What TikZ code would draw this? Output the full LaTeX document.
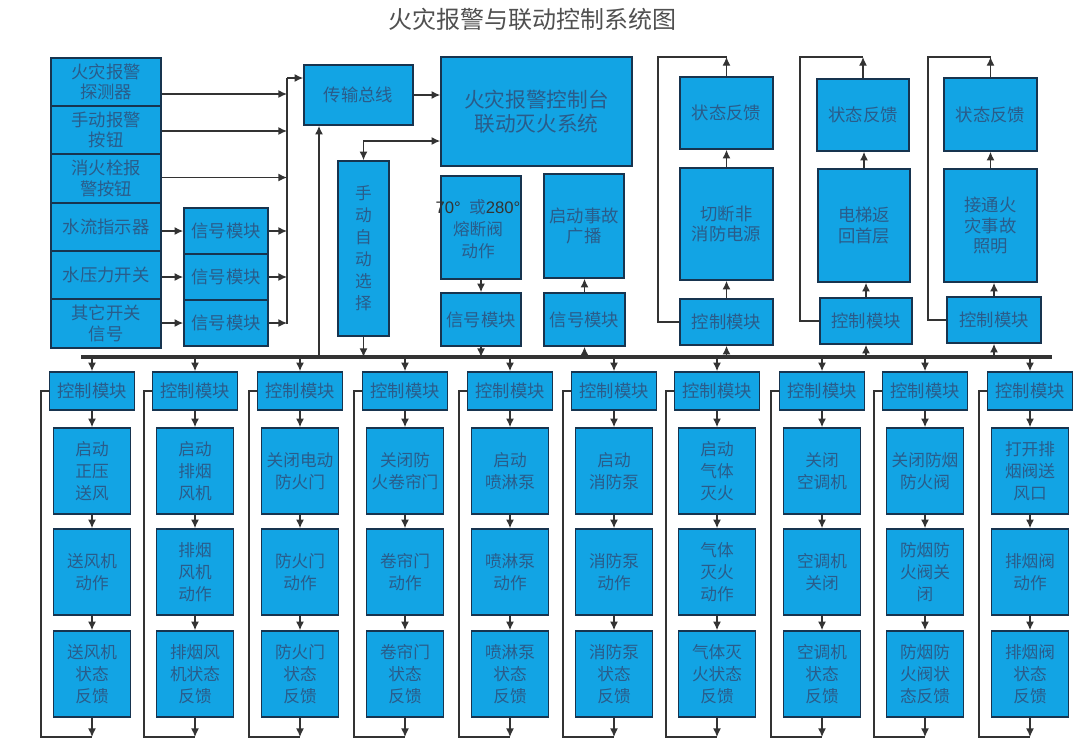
\documentclass[tikz,border=0pt]{standalone}
\usepackage{fontspec}
\setmainfont{Noto Sans CJK SC}
\newfontfamily\lat{Liberation Sans}
\usetikzlibrary{arrows.meta,calc}
\definecolor{boxfill}{HTML}{12A4E4}
\definecolor{boxdraw}{HTML}{17344F}
\definecolor{boxtext}{HTML}{2A5C8A}
\definecolor{linec}{HTML}{333333}
\definecolor{titlec}{HTML}{505050}
\tikzset{
  box/.style={draw=boxdraw, fill=boxfill, line width=1.2pt, text=boxtext, align=center, inner sep=0pt},
  fS/.style={font=\fontsize{12.5}{16.3}\selectfont},
  fM/.style={font=\fontsize{13}{15.5}\selectfont},
  fL/.style={font=\fontsize{15.5}{18}\selectfont},
  arr/.style={draw=linec, line width=1pt, -{Latex[length=6.5pt,width=6pt]}},
  arrb/.style={draw=linec, line width=1pt, {Latex[length=6.5pt,width=6pt]}-{Latex[length=6.5pt,width=6pt]}},
  plain/.style={draw=linec, line width=1pt},
}
\newcommand\bx[7][]{\node[box,#1,minimum width={(#5-#3)*0.75pt},minimum height={(#6-#4)*0.75pt}] (#2) at ({(#3+#5)/2},{(#4+#6)/2}) {#7};}
\newcommand\bcol[5]{%
  \node[box,fM,minimum width=63.75pt,minimum height=28.5pt] (k#1) at (#2,391) {控制模块};
  \node[box,fS,minimum width=57.75pt,minimum height=64.5pt] (p#1) at (#2,471) {#3};
  \node[box,fS,minimum width=57.75pt,minimum height=64.5pt] (q#1) at (#2,572) {#4};
  \node[box,fS,minimum width=57.75pt,minimum height=64.5pt] (r#1) at (#2,674) {#5};
  \coordinate (bb#1) at (#2,357);
  \coordinate (e#1) at (#2,737);
  \coordinate (g#1) at ({#2-51},737);
  \draw[arr] (bb#1) -- (k#1);
  \draw[arr] (k#1) -- (p#1);
  \draw[arr] (p#1) -- (q#1);
  \draw[arr] (q#1) -- (r#1);
  \draw[arr] (r#1) -- (e#1);
  \draw[plain] (k#1.west) -| (g#1) -- (e#1);
}
\begin{document}
\begin{tikzpicture}[x=0.75pt,y=-0.75pt]
\useasboundingbox[fill=white] (0,0) rectangle (1080,740);
\node[text=titlec, font=\fontsize{18}{20}\selectfont] (title) at (532,19) {火灾报警与联动控制系统图};

% left inputs
\bx[fM]{d1}{51}{58}{161}{106}{火灾报警\\探测器}
\bx[fM]{d2}{51}{106}{161}{154}{手动报警\\按钮}
\bx[fM]{d3}{51}{154}{161}{203}{消火栓报\\警按钮}
\bx[fM]{d4}{51}{203}{161}{251}{水流指示器}
\bx[fM]{d5}{51}{251}{161}{299}{水压力开关}
\bx[fM]{d6}{51}{299}{161}{348}{其它开关\\信号}
\bx[fM]{s1}{184}{208}{268}{254}{信号模块}
\bx[fM]{s2}{184}{254}{268}{300}{信号模块}
\bx[fM]{s3}{184}{300}{268}{346}{信号模块}

\coordinate (ctop) at (287,78);
\coordinate (cbot) at (287,324);
\coordinate (a1) at ($(d1.east)+(0,12)$);
\coordinate (a2) at ($(d2.east)+(0,1)$);
\coordinate (a3) at ($(d3.east)+(0,-1)$);
\draw[arr] (a1) -- (a1 -| ctop);
\draw[arr] (a2) -- (a2 -| ctop);
\draw[arr] (a3) -- (a3 -| ctop);
\draw[arr] (d4.east |- s1.west) -- (s1.west);
\draw[arr] (d5.east |- s2.west) -- (s2.west);
\draw[arr] (d6.east |- s3.west) -- (s3.west);
\draw[arr] (s1.east) -- (s1.east -| ctop);
\draw[arr] (s2.east) -- (s2.east -| ctop);
\draw[arr] (s3.east) -- (s3.east -| ctop);

% bus and controller
\bx[fM]{tb}{304}{65}{413}{125}{传输总线}
\bx[fL]{ctrl}{441}{57}{632}{166}{火灾报警控制台\\联动灭火系统}
\draw[plain] (cbot) -- (ctop);
\draw[arr] (ctop) -- (ctop -| tb.west);
\draw[arr] (tb.east) -- (tb.east -| ctrl.west);

\coordinate (busL) at (81,357);
\coordinate (busR) at (1052,357);
\draw[linec, line width=3pt] (busL) -- (busR);

\coordinate (b1) at (319,357);
\draw[arr] (b1) -- (b1 |- tb.south);

\bx[fS, font=\fontsize{12.5}{16.5}\selectfont]{manual}{338}{161}{389}{336}{手\\动\\自\\动\\选\\择}
\coordinate (m1) at ($(ctrl.west)+(0,29.5)$);
\draw[arrb] (manual.north) |- (m1);
\draw[arr] (manual.south) -- (manual.south |- busL);

\bx{f1}{441}{176}{521}{279}{}
\node[text=boxtext, align=center, inner sep=0pt, font=\fontsize{12.5}{16.5}\selectfont] (ft) at (478,229)
  {{\lat\color{linec}70°}\enspace 或{\lat\color{linec}280°}\\熔断阀\\动作};
\bx[fM]{sm1}{441}{293}{521}{346}{信号模块}
\draw[arr] (f1.south) -- (sm1.north);
\draw[arr] (sm1.south) -- (sm1.south |- busL);

\bx[fM]{bc}{544}{174}{624}{278}{启动事故\\广播}
\bx[fM]{sm2}{544}{293}{625}{346}{信号模块}
\draw[arr] (sm2.north) -- (sm2.north |- bc.south);
\draw[arr] (sm2.south |- busL) -- (sm2.south);

% top right columns
\bx[fM]{fb1}{680}{77}{773}{149}{状态反馈}
\bx[fM]{act1}{680}{168}{773}{280}{切断非\\消防电源}
\bx[fM]{cm1}{680}{299}{773}{345}{控制模块}
\bx[fM]{fb2}{817}{79}{909}{151}{状态反馈}
\bx[fM]{act2}{818}{169}{910}{282}{电梯返\\回首层}
\bx[fM]{cm2}{820}{298}{912}{344}{控制模块}
\bx[fM]{fb3}{944}{78}{1037}{151}{状态反馈}
\bx[fM]{act3}{944}{169}{1037}{282}{接通火\\灾事故\\照明}
\bx[fM]{cm3}{947}{297}{1041}{343}{控制模块}
\foreach \i/\lx in {1/658,2/800,3/928}{
  \coordinate (t\i) at (fb\i.north |- 0,57);
  \coordinate (l\i) at (\lx,57);
  \draw[arr] (cm\i.south |- busL) -- (cm\i.south);
  \draw[arr] (cm\i.north) -- (cm\i.north |- act\i.south);
  \draw[arr] (act\i.north) -- (act\i.north |- fb\i.south);
  \draw[arr] (fb\i.north) -- (t\i);
  \draw[plain] (cm\i.west) -| (l\i) -- (t\i);
}

% bottom columns
\bcol{1}{92}{启动\\正压\\送风}{送风机\\动作}{送风机\\状态\\反馈}
\bcol{2}{195}{启动\\排烟\\风机}{排烟\\风机\\动作}{排烟风\\机状态\\反馈}
\bcol{3}{300}{关闭电动\\防火门}{防火门\\动作}{防火门\\状态\\反馈}
\bcol{4}{405}{关闭防\\火卷帘门}{卷帘门\\动作}{卷帘门\\状态\\反馈}
\bcol{5}{510}{启动\\喷淋泵}{喷淋泵\\动作}{喷淋泵\\状态\\反馈}
\bcol{6}{614}{启动\\消防泵}{消防泵\\动作}{消防泵\\状态\\反馈}
\bcol{7}{717}{启动\\气体\\灭火}{气体\\灭火\\动作}{气体灭\\火状态\\反馈}
\bcol{8}{822}{关闭\\空调机}{空调机\\关闭}{空调机\\状态\\反馈}
\bcol{9}{925}{关闭防烟\\防火阀}{防烟防\\火阀关\\闭}{防烟防\\火阀状\\态反馈}
\bcol{10}{1030}{打开排\\烟阀送\\风口}{排烟阀\\动作}{排烟阀\\状态\\反馈}
\end{tikzpicture}
\end{document}
